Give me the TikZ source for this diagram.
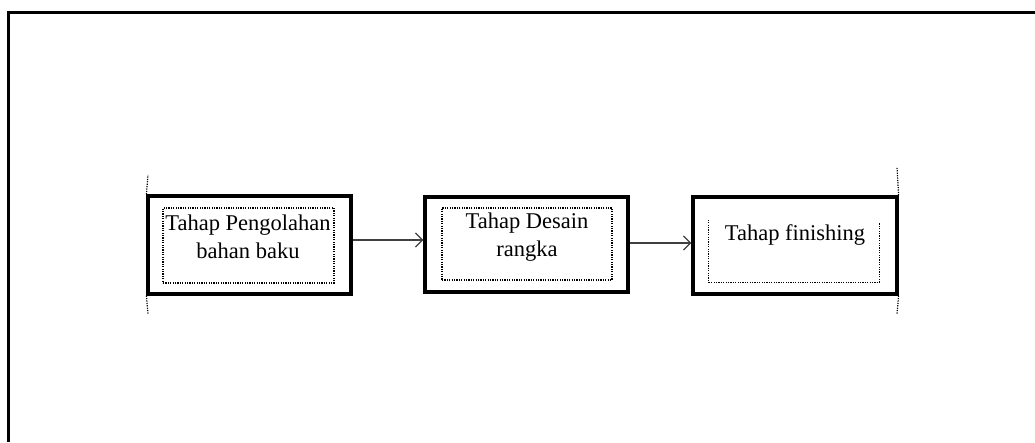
\documentclass[tikz,border=0pt]{standalone}
\usepackage{fontspec}
\setmainfont{Liberation Serif}
\usetikzlibrary{arrows.meta}
\begin{document}
\begin{tikzpicture}[x=1pt,y=-1pt,
  stagebox/.style={draw,line width=3.2pt,inner sep=0pt},
  innerbox/.style={draw,dash pattern=on 1.2pt off 1.2pt,line width=1.2pt,inner sep=0pt},
  label/.style={font=\fontsize{22.5}{28}\selectfont,align=center,inner sep=0pt},
  arr/.style={draw=black!75,line width=1.3pt,-{Straight Barb[length=7pt,width=14pt,line width=1.3pt]}},
  guide/.style={dash pattern=on 1.2pt off 1.2pt,line width=1.2pt}]
\useasboundingbox (0,0) rectangle (1035,442);
% outer frame (top and left only)
\draw[line width=2.2pt] (8.5,442) -- (8.5,12.5) -- (1035,12.5);
% stage boxes
\node[stagebox,minimum width=203pt,minimum height=98pt] (b1) at (249.5,245) {};
\node[stagebox,minimum width=203pt,minimum height=95pt] (b2) at (526.5,244.5) {};
\node[stagebox,minimum width=204pt,minimum height=97pt] (b3) at (795,245.5) {};
% inner dotted boxes
\node[innerbox,minimum width=171pt,minimum height=75pt] (i1) at (248.5,245.5) {};
\node[innerbox,minimum width=170pt,minimum height=72pt] (i2) at (527,244) {};
\node[inner sep=0pt,minimum width=170pt,minimum height=62pt] (i3) at (794,251) {};
\draw[dash pattern=on 1.2pt off 1.2pt,line width=1.2pt] (i3.north west) -- (i3.south west) -- (i3.south east) -- ([yshift=-3pt]i3.north east);
% texts
\node[label] (t1) at (248,236.5) {Tahap Pengolahan\\bahan baku};
\node[label] (t2) at (527,237) {Tahap Desain\\rangka};
\node[label] (t3) at (795,235) {Tahap finishing};
% arrows
\draw[arr] ([yshift=5pt]b1.east) -- ([yshift=5pt]b1.east -| b2.west);
\draw[arr] ([yshift=1.5pt]b2.east) -- ([yshift=1.5pt]b2.east -| b3.west);
% dotted guide lines
\coordinate (g1) at (148,175);
\coordinate (g2) at (148,314);
\coordinate (g3) at (897,167);
\coordinate (g4) at (897,314);
\draw[guide] (b1.north west) -- (g1);
\draw[guide] (b1.south west) -- (g2);
\draw[guide] (b3.north east) -- (g3);
\draw[guide] (b3.south east) -- (g4);
\end{tikzpicture}
\end{document}
